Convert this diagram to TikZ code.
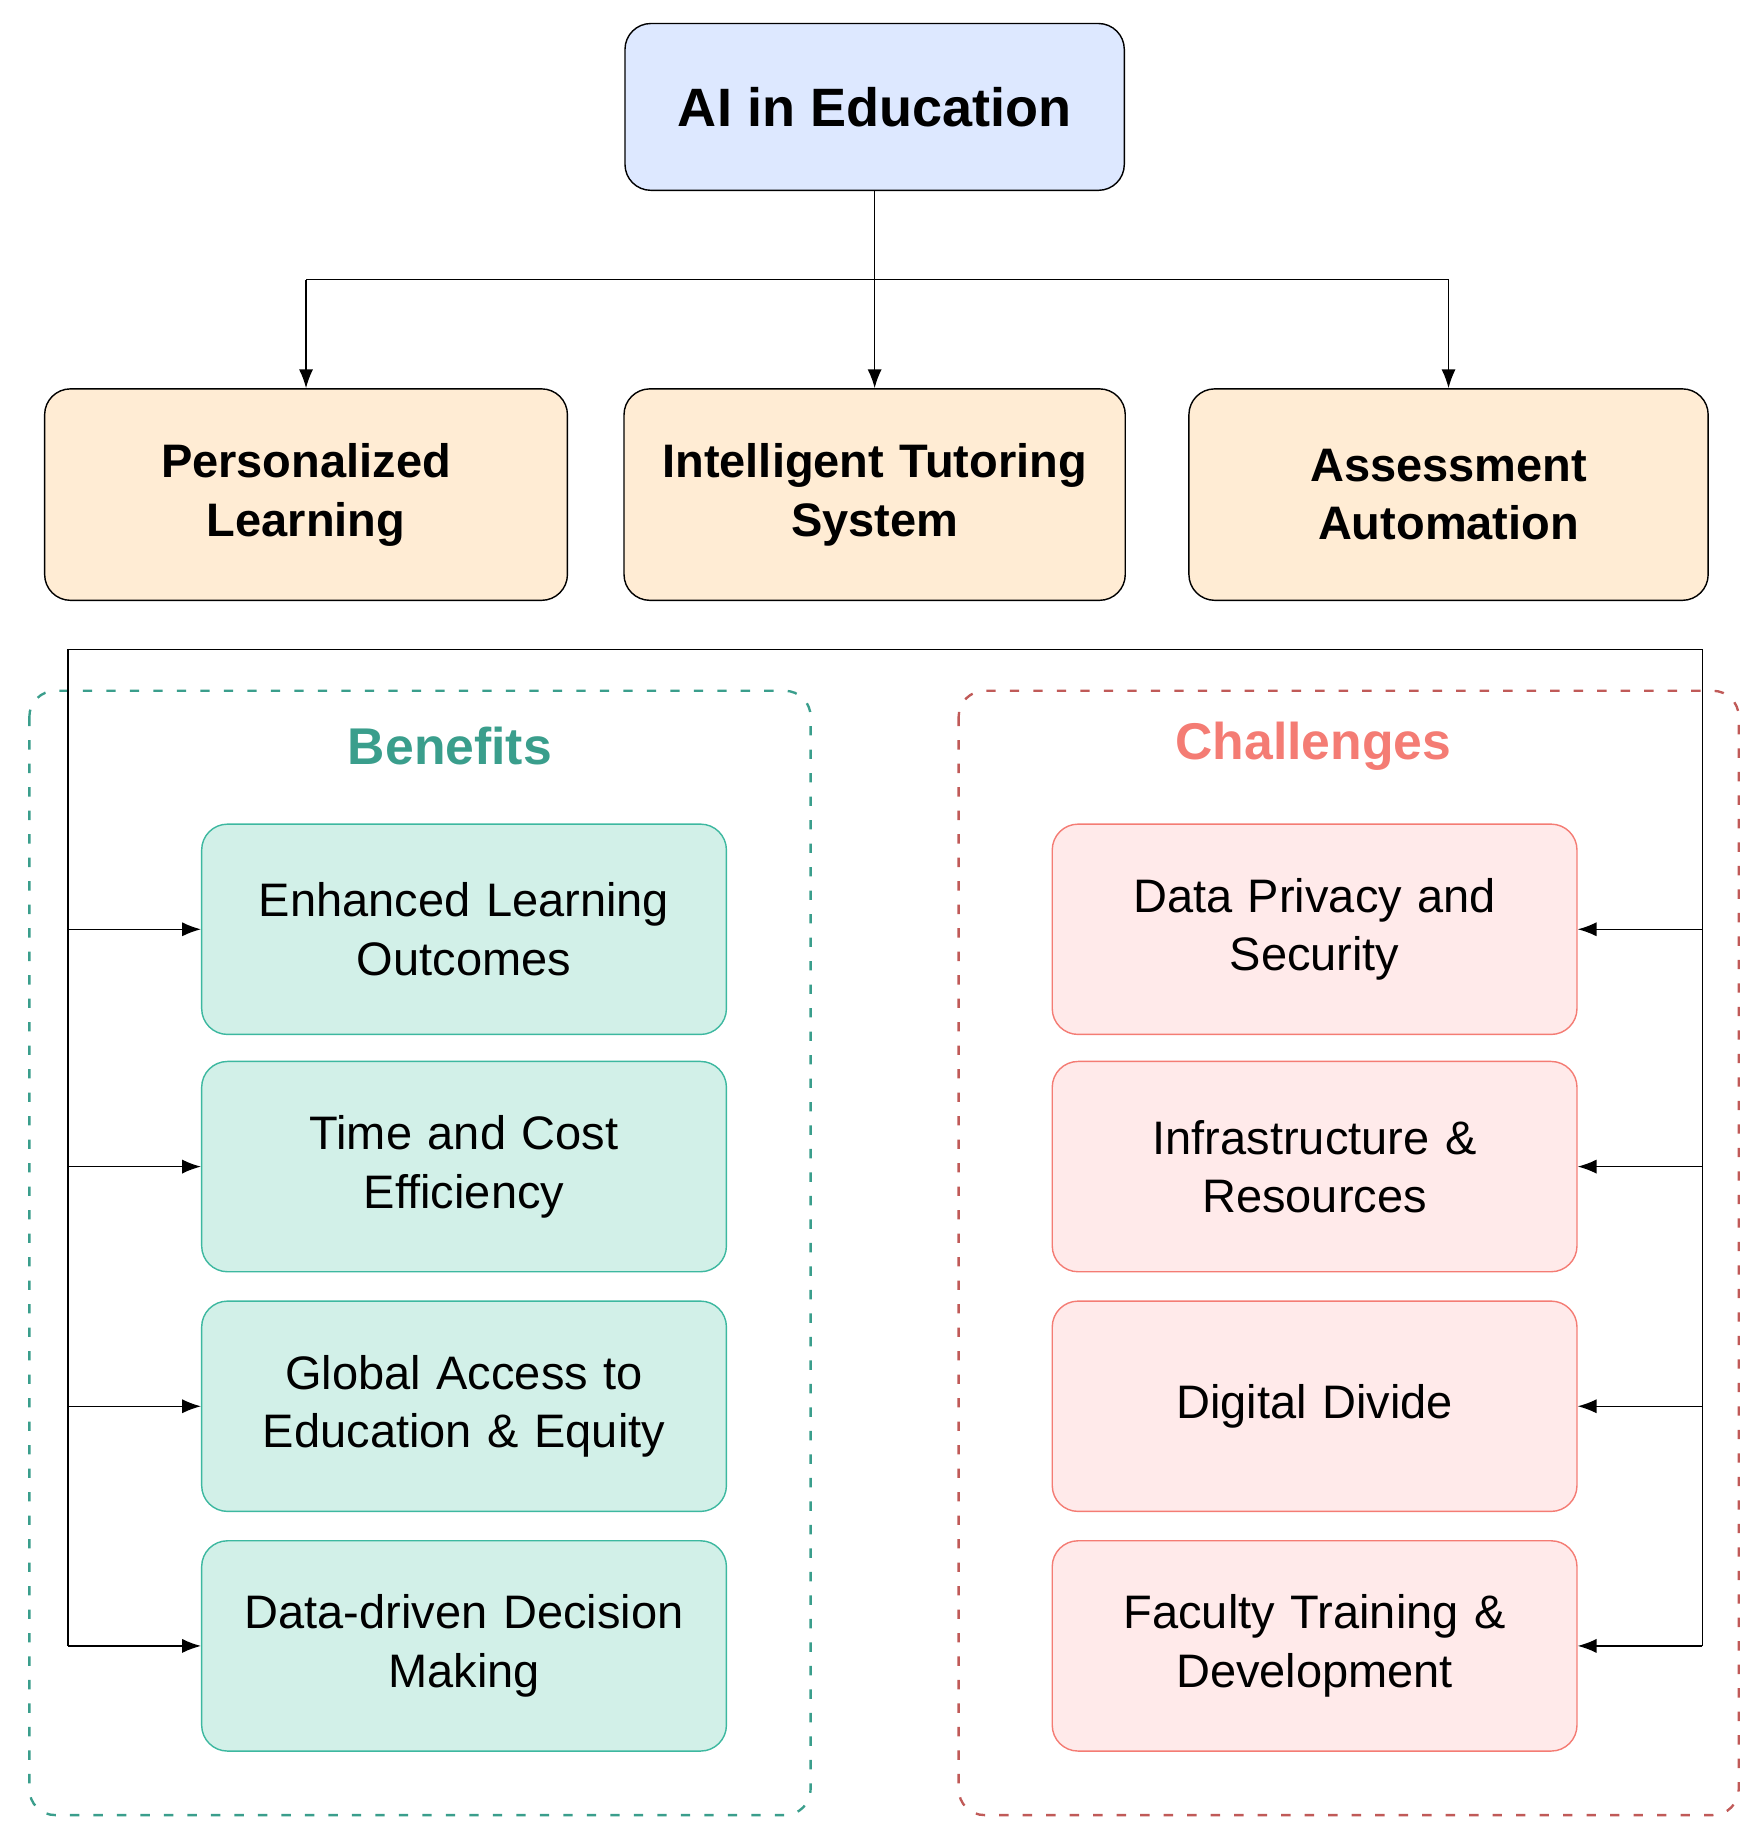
\documentclass[tikz,border=0pt]{standalone}
\usepackage{fontspec}
\setmainfont{Liberation Sans}
\usetikzlibrary{arrows.meta}
\definecolor{topfill}{HTML}{DDE8FF}
\definecolor{midfill}{HTML}{FFECD4}
\definecolor{bfill}{HTML}{D2F0E8}
\definecolor{bdraw}{HTML}{3DB8A0}
\definecolor{btitle}{HTML}{3A9E8C}
\definecolor{cfill}{HTML}{FFEAEA}
\definecolor{cdraw}{HTML}{F47C74}
\definecolor{cdash}{HTML}{C05A58}
\tikzset{
 topbox/.style={draw=black,line width=1.2pt,fill=topfill,rounded corners=22pt,minimum width=425pt,minimum height=142pt,font=\fontsize{46}{52}\selectfont\bfseries,align=center},
 midbox/.style={draw=black,line width=1.2pt,fill=midfill,rounded corners=22pt,minimum height=180pt,font=\fontsize{40}{50}\selectfont\bfseries,align=center,text width=420pt},
 bbox/.style={draw=bdraw,line width=1.2pt,fill=bfill,rounded corners=22pt,minimum width=446pt,minimum height=179pt,font=\fontsize{40}{50}\selectfont,align=center,text width=440pt},
 cbox/.style={draw=cdraw,line width=1.2pt,fill=cfill,rounded corners=22pt,minimum width=446pt,minimum height=179pt,font=\fontsize{40}{50}\selectfont,align=center,text width=440pt},
 conn/.style={line width=1.2pt,-{Latex[length=16pt,width=12pt]}},
 ln/.style={line width=1.2pt}
}
\begin{document}
\begin{tikzpicture}[x=1pt,y=-1pt]
\useasboundingbox (0,0) rectangle (1500,1556);
\draw[btitle,line width=2pt,dash pattern=on 8pt off 12pt,rounded corners=22pt] (25,588) rectangle (690,1545);
\draw[cdash,line width=2pt,dash pattern=on 8pt off 12pt,rounded corners=22pt] (816,588) rectangle (1480,1545);
\node[font=\fontsize{44}{50}\selectfont\bfseries,text=btitle] (bt) at (383,635) {Benefits};
\node[font=\fontsize{44}{50}\selectfont\bfseries,text=cdraw] (ct) at (1118,635) {Challenges};
\node[topbox] (ai) at (744.5,91) {AI in Education};
\node[midbox,minimum width=445pt] (pl) at (260.5,421) {Personalized\\Learning};
\node[midbox,minimum width=425pt] (its) at (744.5,421) {Intelligent Tutoring\\System};
\node[midbox,minimum width=442pt] (aa) at (1233,421) {Assessment\\Automation};
\coordinate (j) at (744.5,238);
\draw[ln] (ai.south) -- (j);
\draw[ln] (260.5,238) -- (1233,238);
\draw[conn] (260.5,238) -- (pl.north);
\draw[conn] (j) -- (its.north);
\draw[conn] (1233,238) -- (aa.north);
\node[bbox] (b1) at (395,791) {Enhanced Learning\\Outcomes};
\node[bbox] (b2) at (395,993) {Time and Cost\\Efficiency};
\node[bbox] (b3) at (395,1197) {Global Access to\\Education \& Equity};
\node[bbox] (b4) at (395,1401) {Data-driven Decision\\Making};
\node[cbox] (c1) at (1119,791) {Data Privacy and\\Security};
\node[cbox] (c2) at (1119,993) {Infrastructure \&\\Resources};
\node[cbox] (c3) at (1119,1197) {Digital Divide};
\node[cbox] (c4) at (1119,1401) {Faculty Training \&\\Development};
\draw[ln] (58,1401) -- (58,553) -- (1449,553) -- (1449,1401);
\foreach \n in {b1,b2,b3,b4}{\draw[conn] (58,0 |- \n.west) -- (\n.west);}
\foreach \n in {c1,c2,c3,c4}{\draw[conn] (1449,0 |- \n.east) -- (\n.east);}
\end{tikzpicture}
\end{document}
